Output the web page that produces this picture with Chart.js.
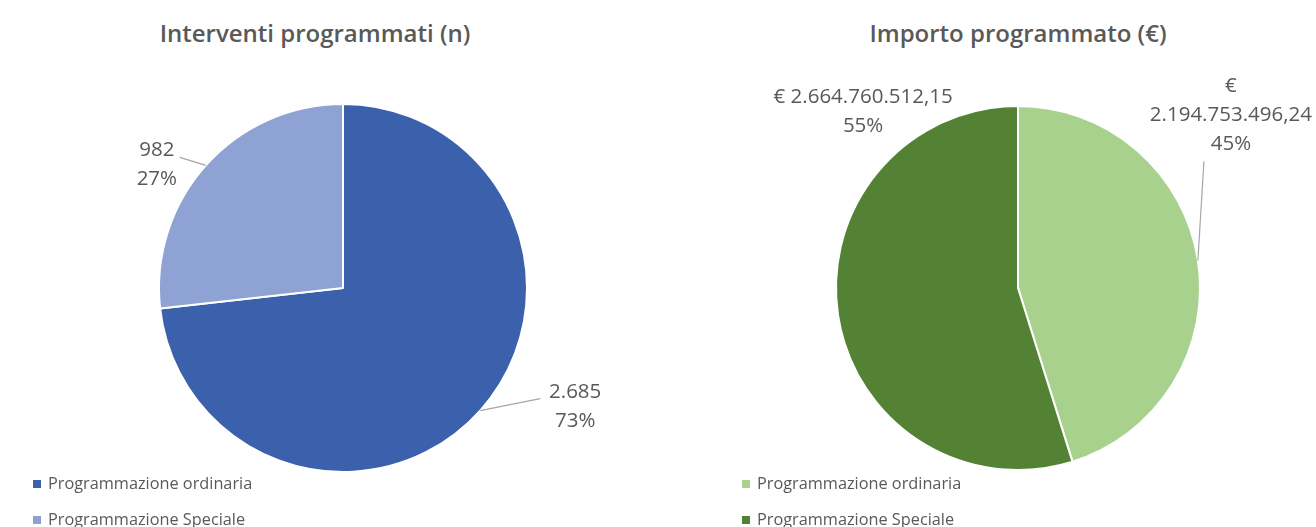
<!DOCTYPE html>
<html>
<head>
<meta charset="utf-8">
<script src="https://cdn.jsdelivr.net/npm/chart.js@4/dist/chart.umd.min.js"></script>
<style>
  html, body { margin: 0; padding: 0; background: #ffffff; }
  body { width: 1316px; height: 527px; position: relative; overflow: hidden; font-family: "Open Sans", sans-serif; }
  .box { position: absolute; top: 0; height: 527px; }
  .title { position: absolute; top: 16px; font-size: 24px; font-weight: 600; color: #595959; text-align: center; white-space: nowrap; }
  .legend { position: absolute; top: 471px; font-size: 16.3px; color: #595959; }
  .legend div { height: 36px; line-height: 24px; white-space: nowrap; }
  .legend span.sw { display: inline-block; width: 8px; height: 8px; margin-right: 7px; vertical-align: 1px; }
</style>
</head>
<body>
<div class="title" id="t1" style="left:0; width:630px;"></div>
<div class="title" id="t2" style="left:720px; width:596px;"></div>
<div class="box" style="left:0; width:686px;"><canvas id="c1"></canvas></div>
<div class="box" style="left:720px; width:596px;"><canvas id="c2"></canvas></div>
<div class="legend" id="l1" style="left:33px;"></div>
<div class="legend" id="l2" style="left:742px;"></div>
<script>
// ---- Data ----
const categories = ["Programmazione ordinaria", "Programmazione Speciale"];
const interventiValues = [2685, 982];
const importoValues = [2194753496.24, 2664760512.15];
const titles = ["Interventi programmati (n)", "Importo programmato (€)"];

// ---- Styles ----
const bluePalette = ["#3B61AC", "#8FA2D4"];
const greenPalette = ["#A8D18D", "#548235"];

function groupThousands(intStr) {
  return intStr.replace(/\B(?=(\d{3})+(?!\d))/g, ".");
}
function fmtInt(v) { return groupThousands(String(Math.round(v))); }
function fmtEuro(v) {
  const parts = v.toFixed(2).split(".");
  return groupThousands(parts[0]) + "," + parts[1];
}

const labelPlugin = {
  id: "outLabels",
  afterDatasetsDraw(chart, args, opts) {
    const ctx = chart.ctx;
    const meta = chart.getDatasetMeta(0);
    const data = chart.data.datasets[0].data;
    const total = data.reduce((a, b) => a + b, 0);
    ctx.save();
    ctx.font = opts.font;
    ctx.fillStyle = opts.color;
    ctx.textAlign = "center";
    ctx.textBaseline = "middle";
    meta.data.forEach((arc, i) => {
      const p = arc.getProps(["x", "y", "startAngle", "endAngle", "outerRadius"], true);
      const mid = (p.startAngle + p.endAngle) / 2;
      const ex = p.x + Math.cos(mid) * p.outerRadius;
      const ey = p.y + Math.sin(mid) * p.outerRadius;
      const place = opts.place[i];
      const lines = opts.text(data[i], total).slice();
      const lh = opts.lineHeight;
      const cx = ex + place.dx;
      const cy = ey + place.dy;
      const top = cy - (lines.length - 1) * lh / 2;
      lines.forEach((t, k) => ctx.fillText(t, cx, top + k * lh));
      if (place.leader) {
        ctx.strokeStyle = "#A6A6A6";
        ctx.lineWidth = 1.2;
        ctx.beginPath();
        ctx.moveTo(ex, ey);
        ctx.lineTo(cx + place.leader[0], cy + place.leader[1]);
        ctx.stroke();
      }
    });
    ctx.restore();
  }
};

function makeChart(id, values, colors, padTop, padBottom, labelOpts) {
  return new Chart(document.getElementById(id), {
    type: "pie",
    data: {
      labels: categories,
      datasets: [{ data: values, backgroundColor: colors, borderColor: "#ffffff", borderWidth: 2 }]
    },
    options: {
      responsive: true,
      maintainAspectRatio: false,
      animation: false,
      layout: { padding: { top: padTop, bottom: padBottom, left: 0, right: 0 } },
      plugins: {
        legend: { display: false },
        tooltip: { enabled: false },
        outLabels: labelOpts
      }
    },
    plugins: [labelPlugin]
  });
}

const pct = (v, t) => Math.round(v / t * 100) + "%";

makeChart("c1", interventiValues, bluePalette, 103, 54, {
  font: "20.5px 'Open Sans'", color: "#595959", lineHeight: 29,
  text: (v, t) => [fmtInt(v), pct(v, t)],
  place: [
    { dx: 95, dy: -4, leader: [-35, -8] },
    { dx: -49, dy: -1, leader: [23, -7] }
  ]
});
makeChart("c2", importoValues, greenPalette, 105, 56, {
  font: "20.5px 'Open Sans'", color: "#595959", lineHeight: 29,
  text: (v, t) => v < 2.5e9 ? ["€", fmtEuro(v), pct(v, t)] : ["€ " + fmtEuro(v), pct(v, t)],
  place: [
    { dx: 33, dy: -145, leader: [-27, 46] },
    { dx: 25, dy: -204, leader: null }
  ]
});

document.getElementById("t1").textContent = titles[0];
document.getElementById("t2").textContent = titles[1];
function buildLegend(id, colors) {
  const el = document.getElementById(id);
  categories.forEach((c, i) => {
    const row = document.createElement("div");
    const sw = document.createElement("span");
    sw.className = "sw"; sw.style.background = colors[i];
    row.appendChild(sw);
    row.appendChild(document.createTextNode(c));
    el.appendChild(row);
  });
}
buildLegend("l1", bluePalette);
buildLegend("l2", greenPalette);
</script>
</body>
</html>
